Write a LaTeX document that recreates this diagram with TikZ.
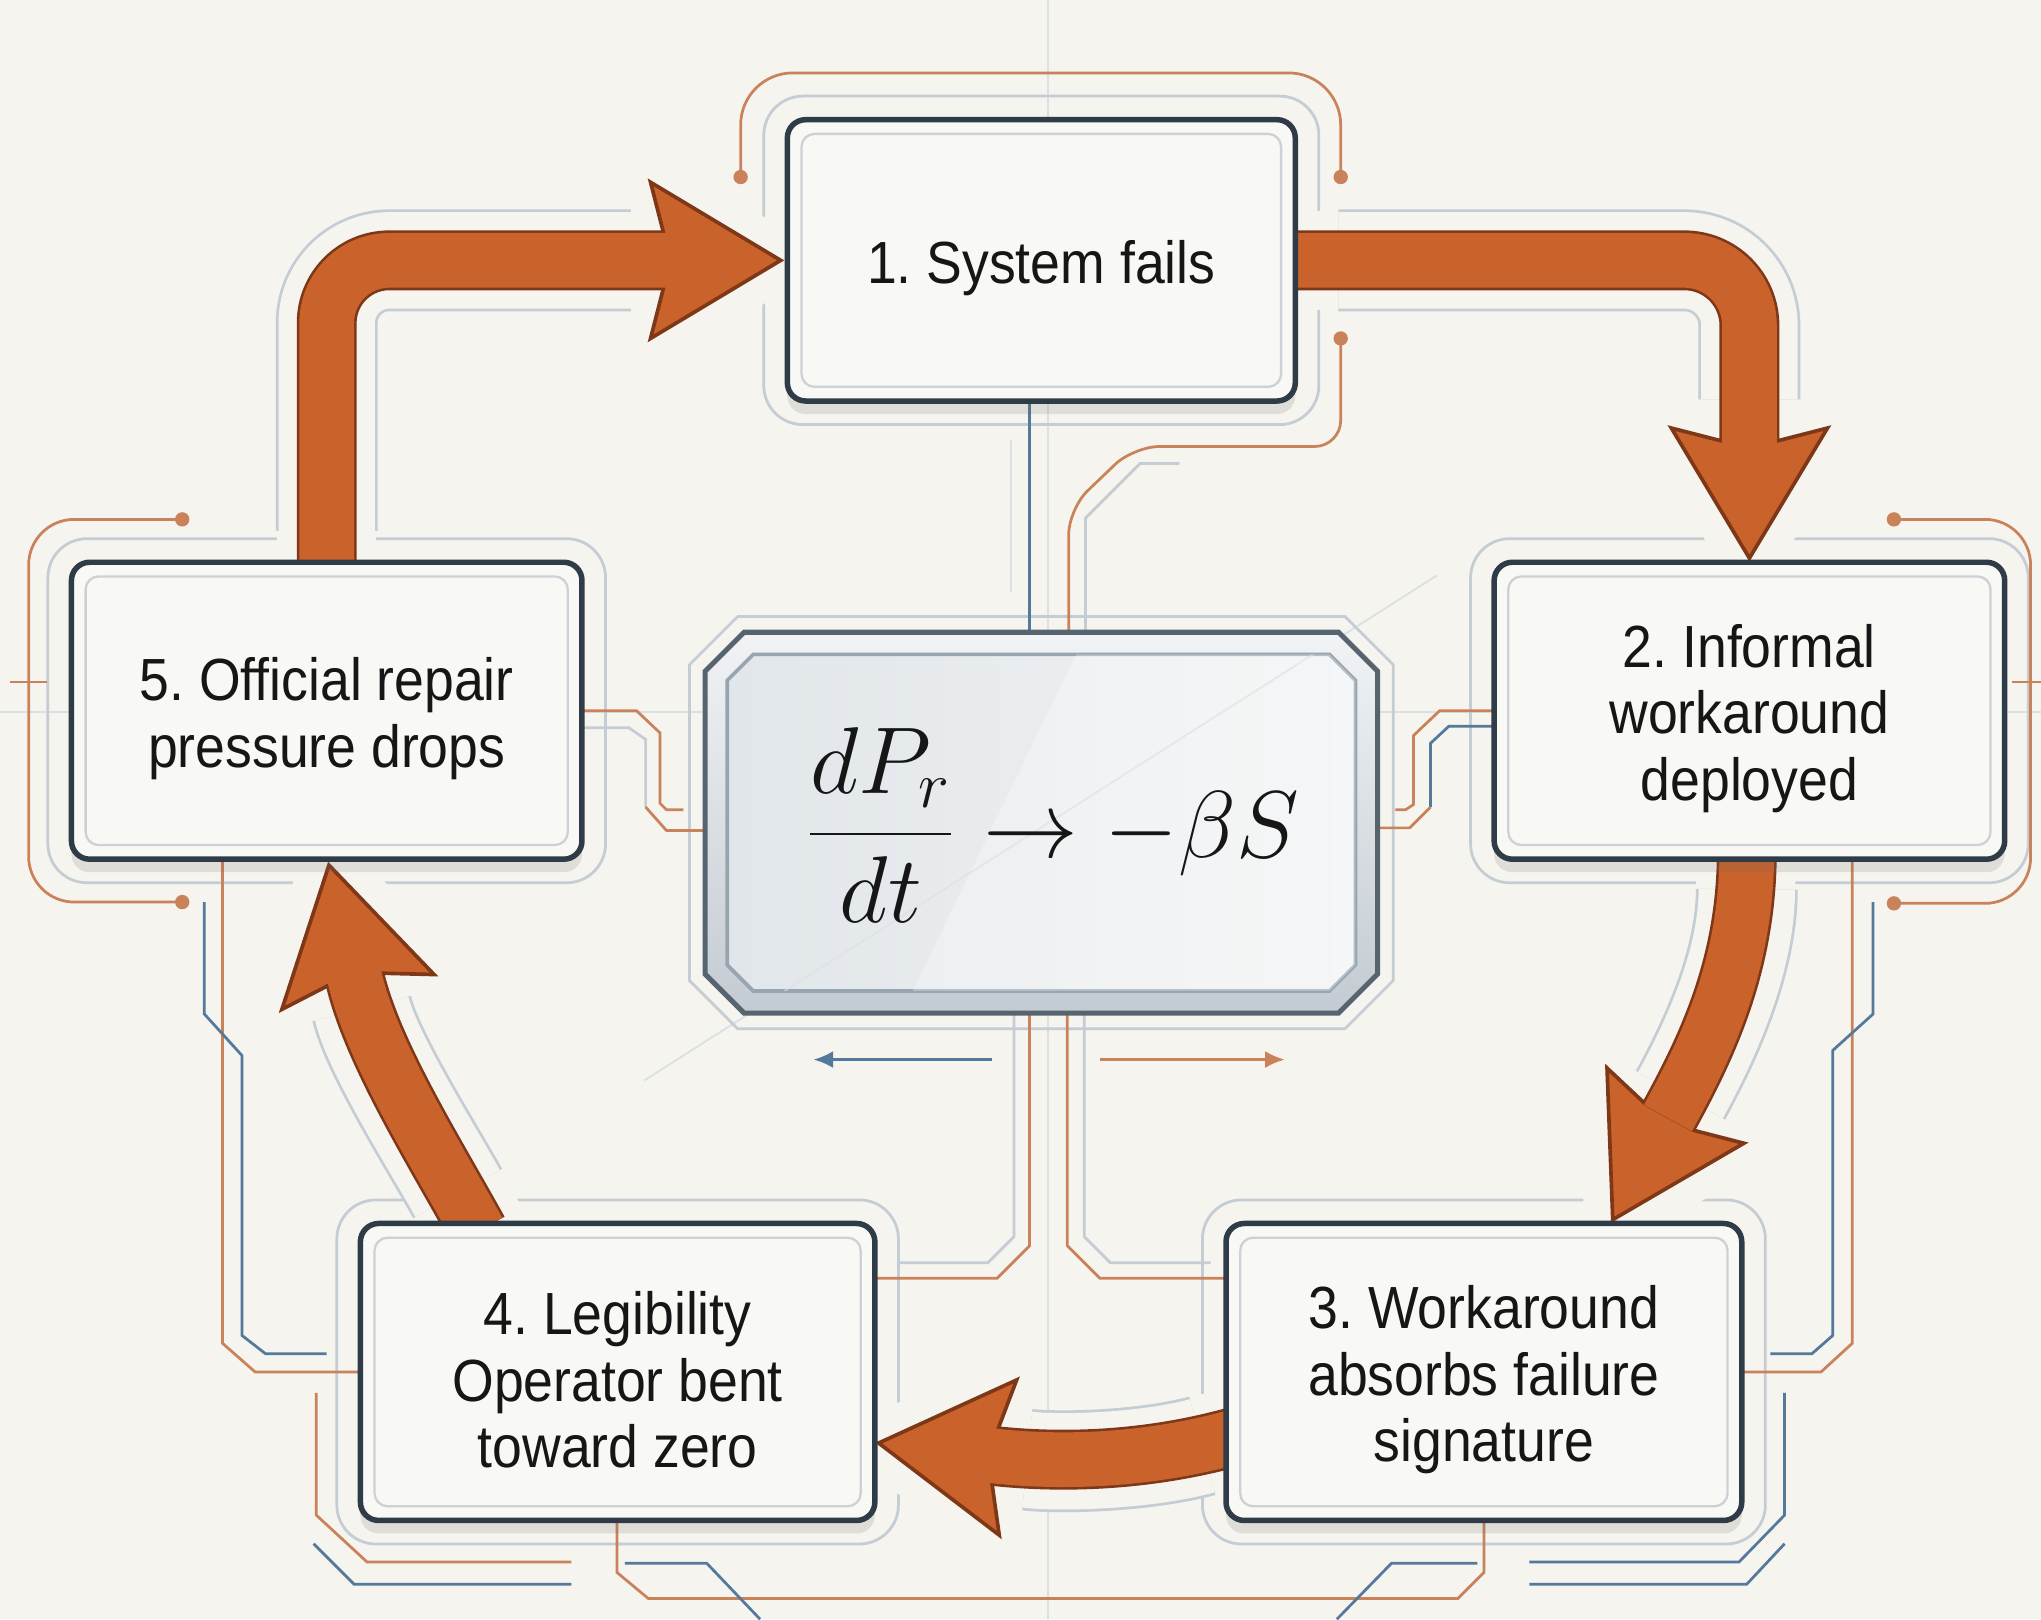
\documentclass[tikz,border=0pt]{standalone}
\usepackage[no-math]{fontspec}
\setmainfont{Liberation Sans}[FakeStretch=0.9]
\usetikzlibrary{calc,shadows,arrows.meta}
\pgfdeclarelayer{back}
\pgfdeclarelayer{mid}
\pgfsetlayers{back,mid,main}

\definecolor{paper}{HTML}{F5F4EF}
\definecolor{arroworange}{HTML}{C9622B}
\definecolor{arrowdark}{HTML}{7E3818}
\definecolor{boxborder}{HTML}{2F3B47}
\definecolor{boxfill}{HTML}{F8F8F5}
\definecolor{innerline}{HTML}{CDD1D5}
\definecolor{halo}{HTML}{C4CCD4}
\definecolor{wireorange}{HTML}{C98259}
\definecolor{wireblue}{HTML}{55799A}
\definecolor{wiregray}{HTML}{C5CCD3}
\definecolor{gridline}{HTML}{DDE0E3}
\definecolor{ink}{HTML}{161616}
\definecolor{frametop}{HTML}{F1F3F5}
\definecolor{framebot}{HTML}{C3CBD2}
\definecolor{frameedge}{HTML}{56646F}
\definecolor{glassedge}{HTML}{98A4AE}
\definecolor{glassleft}{HTML}{E1E6EA}
\definecolor{glassright}{HTML}{F1F3F4}

\tikzset{
  stage/.style={draw=boxborder, line width=1.2pt, fill=boxfill, rounded corners=1.4mm,
    minimum width=3.92cm, minimum height=2.28cm, inner sep=0pt,
    drop shadow={shadow xshift=0mm, shadow yshift=-1mm, opacity=.16, fill=black!60}},
  stagetext/.style={align=center, font=\fontsize{13}{14.5}\selectfont\frenchspacing, text=ink,
    inner sep=0pt, yshift=-0.6mm},
  plate/.style={rectangle, minimum width=5.15cm, minimum height=2.91cm, inner sep=0pt},
  formula/.style={font=\fontsize{21}{25}\selectfont, text=ink, inner sep=0pt},
  innerframe/.style={draw=innerline, line width=0.5pt, rounded corners=1mm},
  halo line/.style={draw=halo, line width=0.6pt, rounded corners=3mm},
  grid/.style={draw=gridline, line width=0.4pt},
  wire orange/.style={draw=wireorange, line width=0.6pt},
  wire blue/.style={draw=wireblue, line width=0.6pt},
  wire gray/.style={draw=wiregray, line width=0.6pt},
  casing/.style={draw=paper, line width=7.6mm},
  headcasing/.style={draw=paper, fill=paper, line width=4.4mm, line join=round},
  arrowhalo/.style={draw=halo, line width=0.6pt, double=paper, double distance=7.4mm},
  shaftline/.style={draw=arrowdark, line width=4.6mm},
  shaftfill/.style={draw=arroworange, line width=4.2mm},
  headfill/.style={fill=arroworange, draw=arrowdark, line width=0.8pt, line join=miter},
}

% fat arrow head: style, tip, direction
\newcommand{\fathead}[3]{%
  \begin{scope}[shift={(#2)}, rotate=#3]
    \path[#1] (0,0) -- (-100,60) -- (-90,21) -- (-90,-21) -- (-100,-60) -- cycle;
  \end{scope}}
% chamfered outline of a node: node, chamfer
\newcommand{\octpath}[2]{($(#1.north west)+(#2,0)$) -- ($(#1.north east)+(-#2,0)$)
  -- ($(#1.north east)+(0,#2)$) -- ($(#1.south east)+(0,-#2)$)
  -- ($(#1.south east)+(-#2,0)$) -- ($(#1.south west)+(#2,0)$)
  -- ($(#1.south west)+(0,-#2)$) -- ($(#1.north west)+(0,#2)$) -- cycle}
% shafts of the five loop arrows
\newcommand{\shaftA}{($(b5.north)+(0,10)$) |- ($(tipA)+(-88,0)$)}
\newcommand{\shaftB}{($(b1.east)+(-8,0)$) -| ($(tipB)+(0,-88)$)}
\newcommand{\shaftC}{($(b2.south)+(-2,-8)$) .. controls ($(b2.south)+(-2,80)$) and (ctlC) .. (baseC)}
\newcommand{\shaftD}{($(b3.west)+(8,50)$) .. controls ($(b3.west)+(-57,68)$) and (ctlD) .. (baseD)}
\newcommand{\shaftE}{($(b4.north)+(-107,8)$) .. controls ($(b4.north)+(-140,-52)$) and (ctlE) .. (baseE)}

\begin{document}
\begin{tikzpicture}[x=0.01cm, y=-0.01cm]
\useasboundingbox (0,0) rectangle (1568,1244);

% Stages
\node[stage, minimum width=3.9cm, minimum height=2.16cm,
  label={[stagetext, name=t1]center:1. System fails}] (b1) at (800,200) {};
\node[stage, label={[stagetext, name=t2]center:2. Informal\\workaround\\deployed}] (b2) at (1344,546) {};
\node[stage, minimum width=3.96cm,
  label={[stagetext, name=t3]center:3. Workaround\\absorbs failure\\signature}] (b3) at (1140,1054) {};
\node[stage, minimum width=3.95cm,
  label={[stagetext, name=t4]center:4. Legibility\\Operator bent\\toward zero}] (b4) at (474.5,1054) {};
\node[stage, label={[stagetext, name=t5]center:5. Official repair\\pressure drops}] (b5) at (251,546) {};
\foreach \n in {b1,b2,b3,b4,b5}
  \draw[innerframe] ($(\n.north west)+(13,13)$) rectangle ($(\n.south east)+(-13,-13)$);

% Equation plate
\node[plate] (eq) at (800,632) {};
\node[plate, minimum width=4.81cm, minimum height=2.57cm] (eqin) at (eq.center) {};
\node[plate, minimum width=5.39cm, minimum height=3.15cm] (eqhalo) at (eq.center) {};
\node[formula] (fml) at ($(eq.center)+(8,2)$) {$\displaystyle\frac{dP_r}{dt}\rightarrow-\beta S$};

% Arrow tips
\coordinate (tipA) at ($(b1.west)+(-3,0)$);
\coordinate (tipB) at ($(b2.north)+(0,-1)$);
\coordinate (tipC) at (1239,937);
\coordinate (baseC) at (1281.4,858.9);
\coordinate (ctlC) at (1310.3,806.3);
\coordinate (tipD) at (675,1108.6);
\coordinate (baseD) at (762.4,1118.4);
\coordinate (ctlD) at (817,1124.5);
\coordinate (tipE) at (252.7,664.6);
\coordinate (baseE) at (272.3,750.4);
\coordinate (ctlE) at (285.7,808.9);

\begin{pgfonlayer}{back}
  \fill[paper] (0,0) rectangle (1568,1244);
  % Grid
  \draw[grid] (805,0) -- (805,1244);
  \draw[grid] (0,547) -- (1568,547);
  \draw[grid] (495,830) -- (1104,442);
  \draw[grid] (777,338) -- (777,455);
  % Halos
  \foreach \n in {b1,b2,b3,b4,b5}
    \draw[halo line] ($(\n.north west)+(-16,-16)$) rectangle ($(\n.south east)+(16,16)$);
  \draw[draw=halo, line width=0.6pt] \octpath{eqhalo}{37};
  % Gaps round the arrows
  \draw[casing, rounded corners=4.8mm] \shaftA;
  \draw[casing, rounded corners=5mm] \shaftB;
  \draw[casing] \shaftC;
  \draw[casing] \shaftD;
  \draw[casing] \shaftE;
  \fathead{headcasing}{tipA}{0}
  \fathead{headcasing}{tipB}{-90}
  \fathead{headcasing}{tipC}{241.2}
  \fathead{headcasing}{tipD}{173.6}
  \fathead{headcasing}{tipE}{102.9}

  % Wires round stage 1
  \draw[wire orange, rounded corners=4mm] (569,136) -- (569,56) -- (1030,56) -- (1030,136);
  \fill[wireorange] (569,136) circle (0.55mm) (1030,136) circle (0.55mm) (1030,260) circle (0.55mm);
  \draw[wire orange, rounded corners=2mm] (1030,260) -- (1030,343) -- (871,343) -- (821,391) -- (821,487);
  \draw[wire gray] (906,356) -- (876,356) -- (834,398) -- (834,487);
  \draw[wire blue] ($(b1.south)+(-9,0)$) -- ($(eq.north)+(-9,0)$);

  % Side loops
  \draw[wire orange, rounded corners=3.5mm] (140,399) -- (22,399) -- (22,693) -- (140,693);
  \draw[wire orange, rounded corners=3.5mm] (1455,399) -- (1560,399) -- (1560,694) -- (1455,694);
  \fill[wireorange] (140,399) circle (0.55mm) (140,693) circle (0.55mm)
    (1455,399) circle (0.55mm) (1455,694) circle (0.55mm);
  \draw[wire orange] (8,524) -- (36,524);
  \draw[wire orange] (1546,524) -- (1568,524);

  % Stage 5 and stage 2 to the plate
  \draw[wire orange] (447,546) -- (489,546) -- (507,563) -- (507,617) -- (512,622) -- (525,622);
  \draw[wire gray] (447,559) -- (483,559) -- (496,568) -- (496,620);
  \draw[wire orange] (496,620) -- (512,638) -- (542,638);
  \draw[wire orange] (1148,546) -- (1106,546) -- (1086,565) -- (1086,618) -- (1080,622) -- (1072,622);
  \draw[wire blue] (1148,558) -- (1113,558) -- (1099,571) -- (1099,620);
  \draw[wire orange] (1099,620) -- (1083,636) -- (1057,636);

  % Plate to stages 4 and 3
  \draw[wire orange] (791,779) -- (791,957) -- (766,982) -- (672,982);
  \draw[wire gray] (779,779) -- (779,950) -- (759,970) -- (690,970);
  \draw[wire orange] (820,779) -- (820,957) -- (845,982) -- (942,982);
  \draw[wire gray] (833,779) -- (833,950) -- (853,970) -- (930,970);
  \draw[wire blue, -{Latex[length=1.5mm,width=1.3mm]}] (762,814) -- (625,814);
  \draw[wire orange, -{Latex[length=1.5mm,width=1.3mm]}] (845,814) -- (987,814);

  % Left column
  \draw[wire orange] (171,660) -- (171,1032) -- (196,1054) -- (277,1054);
  \draw[wire blue] (157,693) -- (157,779) -- (186,811) -- (186,1026) -- (204,1040) -- (251,1040);
  \draw[wire orange] (243,1070) -- (243,1164) -- (282,1200) -- (439,1200);
  \draw[wire blue] (241,1186) -- (272,1217) -- (439,1217);
  % Bottom
  \draw[wire orange] (474,1168) -- (474,1208) -- (498,1228) -- (1120,1228) -- (1140,1208) -- (1140,1168);
  \draw[wire blue] (480,1201) -- (543,1201) -- (584,1244);
  \draw[wire blue] (1135,1201) -- (1069,1201) -- (1027,1244);
  % Right column
  \draw[wire orange] (1423,660) -- (1423,1032) -- (1399,1054) -- (1338,1054);
  \draw[wire blue] (1439,693) -- (1439,779) -- (1408,807) -- (1408,1026) -- (1392,1040) -- (1360,1040);
  \draw[wire blue] (1371,1070) -- (1371,1164) -- (1336,1200) -- (1175,1200);
  \draw[wire blue] (1371,1186) -- (1342,1217) -- (1175,1217);
\end{pgfonlayer}

\begin{pgfonlayer}{mid}
  % Plate body
  \begin{scope}[yshift=-1.2mm]
    \fill[black, opacity=.12] \octpath{eq}{30};
  \end{scope}
  \draw[draw=frameedge, line width=1.1pt, top color=frametop, bottom color=framebot] \octpath{eq}{30};
  \draw[draw=glassedge, line width=0.8pt, left color=glassleft, right color=glassright] \octpath{eqin}{20};
  \begin{scope}
    \clip \octpath{eqin}{20};
    \fill[white, opacity=.3] (833,490) -- (1100,490) -- (1100,780) -- (692,780) -- cycle;
    \draw[grid, opacity=.6] (495,830) -- (1104,442);
  \end{scope}

  % Lines beside the arrows
  \draw[arrowhalo, rounded corners=4.8mm, shorten <=3.2mm, shorten >=2.7mm] \shaftA;
  \draw[arrowhalo, rounded corners=5mm, shorten <=3.9mm, shorten >=3.4mm] \shaftB;
  \draw[arrowhalo, shorten <=2.9mm, shorten >=2mm] \shaftC;
  \draw[arrowhalo, shorten <=2.5mm, shorten >=2.7mm] \shaftD;
  \draw[arrowhalo, shorten <=3.3mm, shorten >=2.5mm] \shaftE;

  % Loop arrows
  \draw[shaftline, rounded corners=4.8mm] \shaftA;
  \fathead{headfill}{tipA}{0}
  \draw[shaftfill, rounded corners=4.8mm] \shaftA;
  \draw[shaftline, rounded corners=5mm] \shaftB;
  \fathead{headfill}{tipB}{-90}
  \draw[shaftfill, rounded corners=5mm] \shaftB;
  \draw[shaftline] \shaftC;
  \fathead{headfill}{tipC}{241.2}
  \draw[shaftfill] \shaftC;
  \draw[shaftline] \shaftD;
  \fathead{headfill}{tipD}{173.6}
  \draw[shaftfill] \shaftD;
  \draw[shaftline] \shaftE;
  \fathead{headfill}{tipE}{102.9}
  \draw[shaftfill] \shaftE;
\end{pgfonlayer}
\end{tikzpicture}
\end{document}
